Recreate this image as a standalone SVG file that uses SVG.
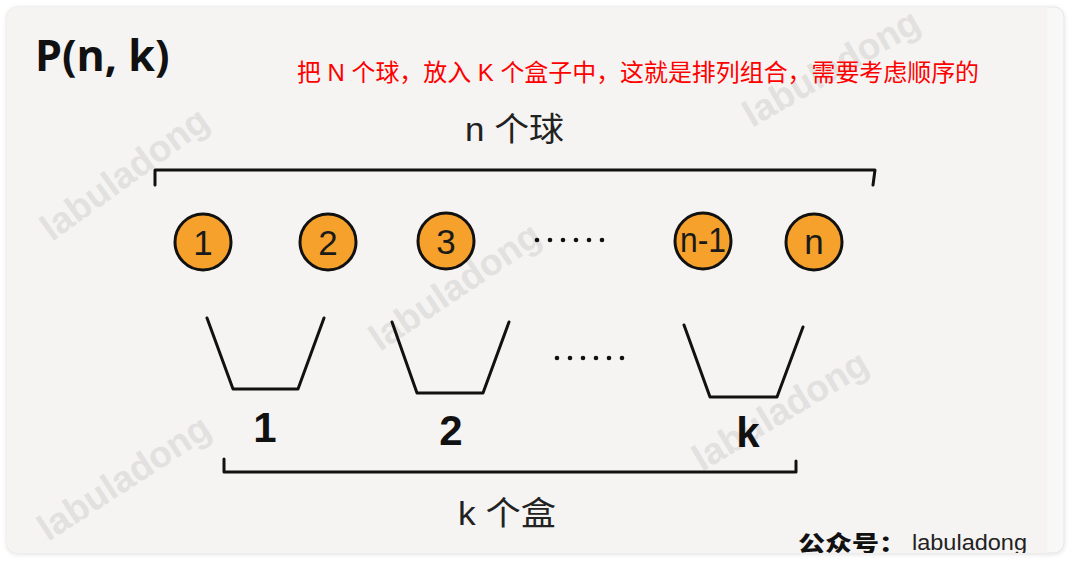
<svg xmlns="http://www.w3.org/2000/svg" width="1073" height="561" viewBox="0 0 1073 561">
  <style>
    .wm { font-family: "Liberation Sans", Arial, sans-serif; font-weight: bold; font-size: 37px; fill: #e2e1df; }
    .ball { fill: #F5A12B; stroke: #111; stroke-width: 3; }
    .balltxt { font-family: "Liberation Sans", Arial, sans-serif; font-size: 35px; fill: #1a1a1a; text-anchor: middle; }
    .line { fill: none; stroke: #111; stroke-width: 3; stroke-linejoin: round; stroke-linecap: round; }
    .lbl { font-family: "Liberation Sans", Arial, sans-serif; font-weight: bold; font-size: 42px; fill: #111; text-anchor: middle; }
    .cjk { font-family: "Liberation Sans", "Noto Sans CJK SC", sans-serif; fill: #222; }
    .dot { fill: #111; }
  </style>
  <defs>
    <filter id="shadow" x="-5%" y="-5%" width="110%" height="110%">
      <feDropShadow dx="0" dy="1" stdDeviation="2" flood-color="#000" flood-opacity="0.12"/>
    </filter>
    <clipPath id="card">
      <rect x="7" y="7" width="1057" height="546" rx="10"/>
    </clipPath>
  </defs>

  <rect x="0" y="0" width="1073" height="561" fill="#ffffff"/>
  <rect x="7" y="7" width="1057" height="546" rx="10" fill="#f8f8f8" stroke="#e6e6e6" filter="url(#shadow)"/>
  <g clip-path="url(#card)">
    <rect x="7" y="7" width="1040" height="546" fill="#f5f4f2"/>

    <g id="watermarks">
      <text class="wm" transform="translate(52,242) rotate(-36)">labuladong</text>
      <text class="wm" transform="translate(752,128) rotate(-30)">labuladong</text>
      <text class="wm" transform="translate(380,352) rotate(-34)">labuladong</text>
      <text class="wm" transform="translate(702,472) rotate(-31)">labuladong</text>
      <text class="wm" transform="translate(48,542) rotate(-33)">labuladong</text>
    </g>

    <g id="title">
      <text x="35" y="71" font-family="'Open Sans', 'Liberation Sans', sans-serif" font-weight="bold" font-size="43" fill="#111">P(n, k)</text>
    </g>
    <g id="note">
      <text x="297" y="81" font-family="'Liberation Sans', 'Noto Sans CJK SC', sans-serif" font-size="24" fill="#ff0000" textLength="682" lengthAdjust="spacingAndGlyphs">把 N 个球，放入 K 个盒子中，这就是排列组合，需要考虑顺序的</text>
    </g>

    <g id="label-balls">
      <text class="cjk" x="465" y="141" font-size="33" textLength="99" lengthAdjust="spacingAndGlyphs">n 个球</text>
    </g>

    <g id="connectors">
      <path class="line" d="M155,185 L155,170 L875,170 L873,185"/>
      <path class="line" d="M224,459 L224,472 L796,472 L796,461"/>
    </g>

    <g id="ball-1">
      <circle class="ball" cx="203" cy="242" r="28"/>
      <text class="balltxt" x="203" y="255">1</text>
    </g>
    <g id="ball-2">
      <circle class="ball" cx="328" cy="242" r="28"/>
      <text class="balltxt" x="328" y="255">2</text>
    </g>
    <g id="ball-3">
      <circle class="ball" cx="446" cy="241" r="28"/>
      <text class="balltxt" x="446" y="254">3</text>
    </g>
    <g id="ball-dots">
      <circle class="dot" cx="537" cy="240" r="2.3"/>
      <circle class="dot" cx="550" cy="240" r="2.3"/>
      <circle class="dot" cx="563" cy="240" r="2.3"/>
      <circle class="dot" cx="576" cy="240" r="2.3"/>
      <circle class="dot" cx="589" cy="240" r="2.3"/>
      <circle class="dot" cx="602" cy="240" r="2.3"/>
    </g>
    <g id="ball-n-1">
      <circle class="ball" cx="703" cy="241" r="28"/>
      <text class="balltxt" x="703" y="252" font-size="29" textLength="46" lengthAdjust="spacingAndGlyphs">n-1</text>
    </g>
    <g id="ball-n">
      <circle class="ball" cx="814" cy="242" r="28"/>
      <text class="balltxt" x="814" y="254">n</text>
    </g>

    <g id="box-1">
      <path class="line" d="M207,318 L233,389 L298,389 L324,318"/>
      <text class="lbl" x="265" y="442">1</text>
    </g>
    <g id="box-2">
      <path class="line" d="M392,322 L417,393 L483,393 L509,322"/>
      <text class="lbl" x="451" y="445">2</text>
    </g>
    <g id="box-dots">
      <circle class="dot" cx="557" cy="358" r="2.3"/>
      <circle class="dot" cx="570" cy="358" r="2.3"/>
      <circle class="dot" cx="583" cy="358" r="2.3"/>
      <circle class="dot" cx="596" cy="358" r="2.3"/>
      <circle class="dot" cx="609" cy="358" r="2.3"/>
      <circle class="dot" cx="622" cy="358" r="2.3"/>
    </g>
    <g id="box-k">
      <path class="line" d="M684,325 L710,397 L777,397 L803,327"/>
      <text class="lbl" x="748" y="447">k</text>
    </g>

    <g id="label-boxes">
      <text class="cjk" x="458" y="525" font-size="33" textLength="98" lengthAdjust="spacingAndGlyphs">k 个盒</text>
    </g>

    <g id="footer">
      <text x="798" y="551" font-family="'Noto Sans CJK SC', sans-serif" font-weight="900" font-size="22" fill="#111" textLength="108" lengthAdjust="spacingAndGlyphs">公众号：</text>
      <text x="912" y="550" font-family="'Liberation Sans', Arial, sans-serif" font-size="22" fill="#222" textLength="115" lengthAdjust="spacingAndGlyphs">labuladong</text>
    </g>
  </g>
</svg>
